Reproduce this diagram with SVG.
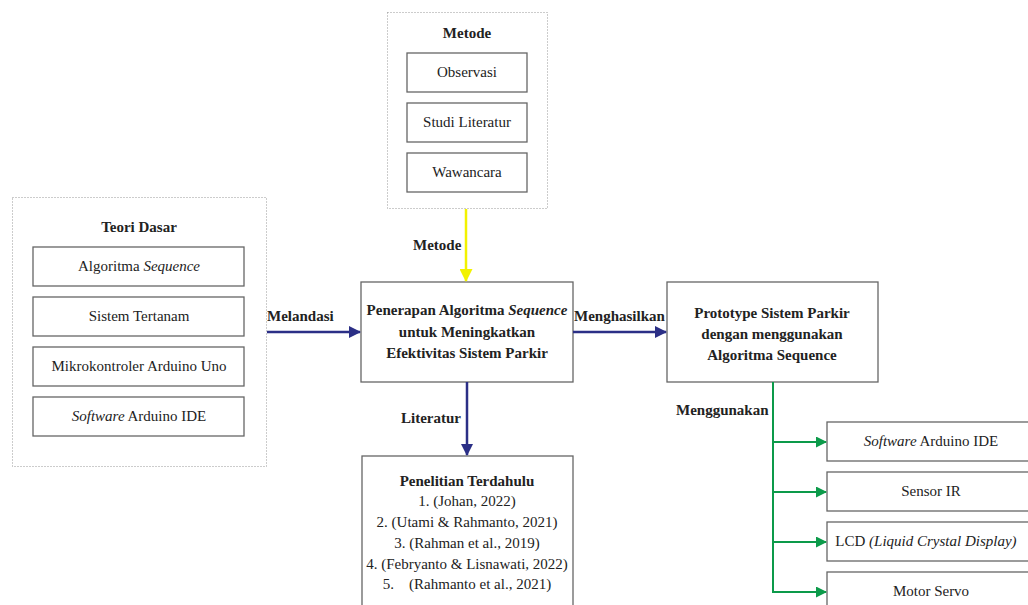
<svg xmlns="http://www.w3.org/2000/svg" width="1028" height="605" viewBox="0 0 1028 605">
<defs>
<style>
.t{font-size:15px;text-anchor:middle;fill:#222;}
.b{font-size:15px;font-weight:bold;text-anchor:middle;fill:#222;}
.lb{font-size:15px;font-weight:bold;fill:#222;}
.box{fill:#fff;stroke:#666;stroke-width:1.3;}
.dot{fill:#fff;stroke:#999;stroke-width:1;stroke-dasharray:1 2;}
.navy{stroke:#2b2f86;stroke-width:2.5;fill:none;}
.yel{stroke:#f2f200;stroke-width:2.5;fill:none;}
.grn{stroke:#0c9a4a;stroke-width:2;fill:none;}
</style>
<marker id="aN" markerWidth="12" markerHeight="12" refX="11" refY="6" orient="auto" markerUnits="userSpaceOnUse" viewBox="0 0 12 12"><path d="M0,0 L12,6 L0,12 z" fill="#2b2f86"/></marker>
<marker id="aY" markerWidth="13" markerHeight="13" refX="12" refY="6.5" orient="auto" markerUnits="userSpaceOnUse" viewBox="0 0 13 13"><path d="M0,0 L13,6.5 L0,13 z" fill="#f2f200"/></marker>
<marker id="aG" markerWidth="11" markerHeight="11" refX="10" refY="5.5" orient="auto" markerUnits="userSpaceOnUse" viewBox="0 0 11 11"><path d="M0,0 L11,5.5 L0,11 z" fill="#0c9a4a"/></marker>
</defs>
<rect width="1028" height="605" fill="#fff"/>

<g id="metode">
<rect class="dot" x="387.5" y="12.5" width="160" height="196"/>
<text class="b" font-family="Liberation Serif" x="467" y="38">Metode</text>
<rect class="box" x="407" y="53" width="120" height="39"/>
<text class="t" font-family="Liberation Serif" x="467" y="77">Observasi</text>
<rect class="box" x="407" y="103" width="120" height="39"/>
<text class="t" font-family="Liberation Serif" x="467" y="127">Studi Literatur</text>
<rect class="box" x="407" y="153" width="120" height="39"/>
<text class="t" font-family="Liberation Serif" x="467" y="177">Wawancara</text>
</g>

<g id="teori">
<rect class="dot" x="12.5" y="197.5" width="254" height="269"/>
<text class="b" font-family="Liberation Serif" x="139" y="232">Teori Dasar</text>
<rect class="box" x="33" y="247" width="211" height="39"/>
<text class="t" font-family="Liberation Serif" x="139" y="271">Algoritma <tspan font-style="italic">Sequence</tspan></text>
<rect class="box" x="33" y="297" width="211" height="39"/>
<text class="t" font-family="Liberation Serif" x="139" y="321">Sistem Tertanam</text>
<rect class="box" x="33" y="347" width="211" height="39"/>
<text class="t" font-family="Liberation Serif" x="139" y="371">Mikrokontroler Arduino Uno</text>
<rect class="box" x="33" y="397" width="211" height="39"/>
<text class="t" font-family="Liberation Serif" x="139" y="421"><tspan font-style="italic">Software</tspan> Arduino IDE</text>
</g>

<g id="penerapan">
<rect class="box" x="361" y="282" width="212" height="100"/>
<text class="b" font-family="Liberation Serif" x="467" y="315">Penerapan Algoritma <tspan font-style="italic">Sequence</tspan></text>
<text class="b" font-family="Liberation Serif" x="467" y="337">untuk Meningkatkan</text>
<text class="b" font-family="Liberation Serif" x="467" y="358">Efektivitas Sistem Parkir</text>
</g>

<g id="prototype">
<rect class="box" x="667" y="282" width="211" height="100"/>
<text class="b" font-family="Liberation Serif" x="772" y="318">Prototype Sistem Parkir</text>
<text class="b" font-family="Liberation Serif" x="772" y="339">dengan menggunakan</text>
<text class="b" font-family="Liberation Serif" x="772" y="360">Algoritma Sequence</text>
</g>

<g id="penelitian">
<rect class="box" x="362" y="456" width="211" height="160"/>
<text class="b" font-family="Liberation Serif" x="467" y="486">Penelitian Terdahulu</text>
<text class="t" font-family="Liberation Serif" x="467" y="506">1. (Johan, 2022)</text>
<text class="t" font-family="Liberation Serif" x="467" y="527">2. (Utami &amp; Rahmanto, 2021)</text>
<text class="t" font-family="Liberation Serif" x="467" y="548">3. (Rahman et al., 2019)</text>
<text class="t" font-family="Liberation Serif" x="467" y="569">4. (Febryanto &amp; Lisnawati, 2022)</text>
<text class="t" font-family="Liberation Serif" x="467" y="589" xml:space="preserve">5.    (Rahmanto et al., 2021)</text>
</g>

<g id="komponen">
<rect class="box" x="827" y="422" width="215" height="39"/>
<text class="t" font-family="Liberation Serif" x="931" y="446"><tspan font-style="italic">Software</tspan> Arduino IDE</text>
<rect class="box" x="827" y="472" width="215" height="39"/>
<text class="t" font-family="Liberation Serif" x="931" y="496">Sensor IR</text>
<rect class="box" x="827" y="522" width="215" height="39"/>
<text class="t" font-family="Liberation Serif" x="926" y="546">LCD <tspan font-style="italic">(Liquid Crystal Display)</tspan></text>
<rect class="box" x="827" y="572" width="215" height="39"/>
<text class="t" font-family="Liberation Serif" x="931" y="596">Motor Servo</text>
</g>

<g id="connectors">
<line class="yel" x1="466" y1="209" x2="466" y2="281" marker-end="url(#aY)"/>
<text class="lb" font-family="Liberation Serif" x="413" y="250">Metode</text>
<line class="navy" x1="267" y1="332" x2="360" y2="332" marker-end="url(#aN)"/>
<text class="lb" font-family="Liberation Serif" x="267" y="321">Melandasi</text>
<line class="navy" x1="573" y1="332" x2="666" y2="332" marker-end="url(#aN)"/>
<text class="lb" font-family="Liberation Serif" x="574" y="321">Menghasilkan</text>
<line class="navy" x1="467" y1="382" x2="467" y2="455" marker-end="url(#aN)"/>
<text class="lb" font-family="Liberation Serif" x="401" y="423">Literatur</text>
<polyline class="grn" points="773,382 773,592"/>
<text class="lb" font-family="Liberation Serif" x="676" y="415">Menggunakan</text>
<line class="grn" x1="773" y1="442" x2="826" y2="442" marker-end="url(#aG)"/>
<line class="grn" x1="773" y1="492" x2="826" y2="492" marker-end="url(#aG)"/>
<line class="grn" x1="773" y1="542" x2="826" y2="542" marker-end="url(#aG)"/>
<line class="grn" x1="772" y1="592" x2="826" y2="592" marker-end="url(#aG)"/>
</g>
</svg>
